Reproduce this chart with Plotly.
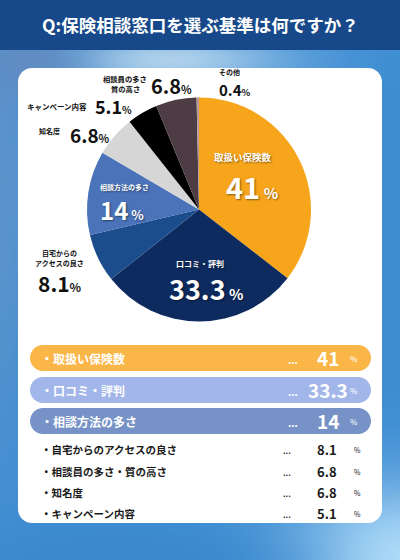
import zlib, struct, base64, math
import plotly.graph_objects as go

# ---------------- data ----------------
title = "Q:保険相談窓口を選ぶ基準は何ですか？"
labels = ["取扱い保険数", "口コミ・評判", "自宅からのアクセスの良さ", "相談方法の多さ",
          "知名度", "キャンペーン内容", "相談員の多さ・質の高さ", "その他"]
values = [41, 33.3, 8.1, 14, 6.8, 5.1, 6.8, 0.4]
colors = ["#f7a51b", "#0e2b60", "#1b4d8c", "#4a73ba",
          "#d6d6d6", "#000000", "#4e3c44", "#b59a9a"]

list_labels = ["取扱い保険数", "口コミ・評判", "相談方法の多さ", "自宅からのアクセスの良さ",
               "相談員の多さ・質の高さ", "知名度", "キャンペーン内容"]
list_values = [41, 33.3, 14, 8.1, 6.8, 6.8, 5.1]
pill_colors = ["#fbb648", "#a3b6ea", "#7692c6"]

W, H = 400, 560
FONT = "Noto Sans CJK JP"

def px(x): return x / W
def py(y): return 1 - y / H

# ---------------- background gradient image ----------------
def bg_color(x, y):
    c = [62, 141, 211]
    blobs = [
        (165, 58, 120, 28, (174, 209, 236)),
        (0, 180, 35, 260, (92, 148, 204)),
        (30, 60, 60, 40, (95, 140, 195)),
        (400, 560, 110, 80, (178, 222, 250)),
        (120, 560, 160, 30, (60, 136, 204)),
    ]
    for cx, cy, sx, sy, col in blobs:
        w = math.exp(-((x - cx) / sx) ** 2 - ((y - cy) / sy) ** 2)
        c = [c[k] * (1 - w) + col[k] * w for k in range(3)]
    return tuple(int(max(0, min(255, v))) for v in c)

def make_png(w, h, scale):
    raw = bytearray()
    for j in range(h):
        raw.append(0)
        for i in range(w):
            raw += bytes(bg_color(i * scale, j * scale))
    def chunk(t, d):
        c = struct.pack('>I', len(d)) + t + d
        return c + struct.pack('>I', zlib.crc32(t + d) & 0xffffffff)
    png = (b'\x89PNG\r\n\x1a\n'
           + chunk(b'IHDR', struct.pack('>IIBBBBB', w, h, 8, 2, 0, 0, 0))
           + chunk(b'IDAT', zlib.compress(bytes(raw)))
           + chunk(b'IEND', b''))
    return 'data:image/png;base64,' + base64.b64encode(png).decode()

bg_src = make_png(100, 140, 4)

# ---------------- shapes helpers ----------------
def rounded_rect(x0, y0, x1, y1, r):
    k = 0.5523 * r
    def P(x, y): return f"{px(x):.5f},{py(y):.5f}"
    d = f"M {P(x0 + r, y0)} L {P(x1 - r, y0)} "
    d += f"C {P(x1 - r + k, y0)} {P(x1, y0 + r - k)} {P(x1, y0 + r)} "
    d += f"L {P(x1, y1 - r)} "
    d += f"C {P(x1, y1 - r + k)} {P(x1 - r + k, y1)} {P(x1 - r, y1)} "
    d += f"L {P(x0 + r, y1)} "
    d += f"C {P(x0 + r - k, y1)} {P(x0, y1 - r + k)} {P(x0, y1 - r)} "
    d += f"L {P(x0, y0 + r)} "
    d += f"C {P(x0, y0 + r - k)} {P(x0 + r - k, y0)} {P(x0 + r, y0)} Z"
    return d

shapes = []
shapes.append(dict(type="rect", xref="paper", yref="paper", x0=0, x1=1, y0=py(50), y1=1,
                   fillcolor="#17498a", line=dict(width=0), layer="below"))
shapes.append(dict(type="path", xref="paper", yref="paper", path=rounded_rect(18, 68, 382, 523, 14),
                   fillcolor="white", line=dict(width=0), layer="below"))

pill_y = [358, 390, 421]
for i, yc in enumerate(pill_y):
    shapes.append(dict(type="path", xref="paper", yref="paper",
                       path=rounded_rect(30, yc - 13, 371, yc + 13, 13),
                       fillcolor=pill_colors[i], line=dict(width=0), layer="below"))

# ---------------- annotations ----------------
annotations = []
def ann(x, y, text, size, color="#111", weight=700, xanchor="center", shadow=None):
    f = dict(family=FONT, size=size, color=color, weight=weight)
    if shadow:
        f["shadow"] = shadow
    annotations.append(dict(x=px(x), y=py(y), xref="paper", yref="paper", text=text,
                            showarrow=False, xanchor=xanchor, yanchor="middle", font=f))

def num(v, pct_size, space=" "):
    return f"{v:g}<span style='font-size:{pct_size}px'>{space}%</span>"

ann(200, 25, title, 17.5, "white")

SH = "1px 1px 2px rgba(0,0,0,0.45)"
# inside labels
ann(243, 157, labels[0], 9.5, "white", shadow=SH)
ann(252, 186, num(values[0], 15), 29, "white", shadow=SH)
ann(200, 263, labels[1], 8, "white", shadow=SH)
ann(206, 288, num(values[1], 15), 27, "white", shadow=SH)
ann(124, 187, labels[3], 7, "white", shadow=SH)
ann(122, 209, num(values[3], 13), 24, "white", shadow=SH)
# outside labels
ann(59, 253, "自宅からの", 7)
ann(59, 263, "アクセスの良さ", 7)
ann(60, 283, num(values[2], 12, ""), 21)
ann(49, 131, labels[4], 7)
ann(90, 134, num(values[4], 11, ""), 19)
ann(57, 106, labels[5], 7.5)
ann(114, 106, num(values[5], 10, ""), 18)
ann(125, 79, "相談員の多さ", 7.3)
ann(125, 89, "質の高さ", 7.3)
ann(171, 85, num(values[6], 11, ""), 20)
ann(229, 72, labels[7], 7)
ann(235, 89, num(values[7], 9, ""), 15)

# list
for i, (lab, v) in enumerate(zip(list_labels, list_values)):
    if i < 3:
        yc = pill_y[i]
        ann(39, yc, "・" + lab, 12, "white", xanchor="left")
        ann(293, yc + 1, "...", 10, "white")
        ann(328, yc - 1, f"{v:g}", 19, "white")
        ann(354, yc, "%", 8, "white", weight=400)
    else:
        yc = [449, 471, 492, 513][i - 3]
        ann(39, yc, "・" + lab, 10.5, "#1a1a1a", xanchor="left")
        ann(287, yc + 1, "...", 8, "#1a1a1a")
        ann(327, yc, f"{v:g}", 13, "#1a1a1a")
        ann(357, yc + 1, "%", 7, "#1a1a1a", weight=400)

# ---------------- figure ----------------
cx, cy, r = 199, 209.5, 112
fig = go.Figure(go.Pie(
    labels=labels, values=values, sort=False, direction="clockwise", rotation=0,
    marker=dict(colors=colors, line=dict(width=0)),
    textinfo="none", hoverinfo="label+value", showlegend=False,
    domain=dict(x=[px(cx - r), px(cx + r)], y=[py(cy + r), py(cy - r)]),
))
fig.update_layout(
    width=W, height=H, autosize=False,
    margin=dict(l=0, r=0, t=0, b=0),
    paper_bgcolor="#3e8dd3",
    images=[dict(source=bg_src, xref="paper", yref="paper", x=0, y=1, sizex=1, sizey=1,
                 sizing="stretch", xanchor="left", yanchor="top", layer="below")],
    shapes=shapes, annotations=annotations,
    font=dict(family=FONT),
)
fig.write_html("out.html", config={"displayModeBar": False},
               post_script="document.body.style.margin='0';")
